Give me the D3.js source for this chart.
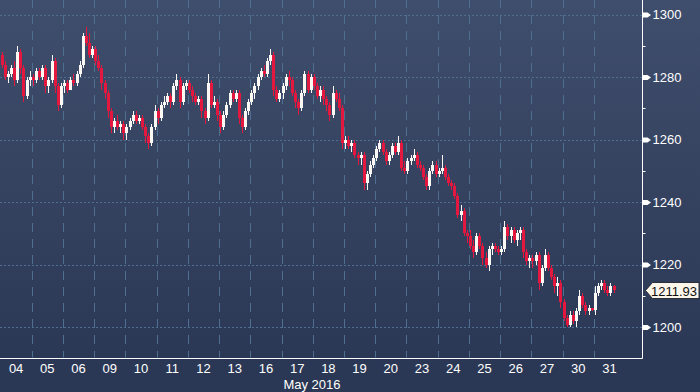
<!DOCTYPE html>
<html>
<head>
<meta charset="utf-8">
<script src="https://cdn.jsdelivr.net/npm/d3@7"></script>
<style>
  html, body { margin: 0; padding: 0; background: #2c3956; }
  svg { display: block; font-family: "Liberation Sans", Arial, sans-serif; }
</style>
</head>
<body>
<svg id="chart" width="700" height="392"></svg>
<script>
const days = ['04', '05', '06', '09', '10', '11', '12', '13', '16', '17',
  '18', '19', '20', '23', '24', '25', '26', '27', '30', '31'];
const monthLabel = 'May 2016';
const yTicks = [1200, 1220, 1240, 1260, 1280, 1300];
const lastPrice = 1211.93;

// [open, high, low, close] bars, one list per trading day
const bars = [
  [[1287,1288,1283,1284],[1284,1285,1279,1280],[1280,1282,1278,1281],[1281,1284,1280,1283],[1283,1285,1277,1279],
   [1279,1290,1278,1288],[1288,1289,1281,1283],[1283,1284,1272,1274],[1274,1280,1273,1279],[1279,1282,1277,1280]],
  [[1280,1281,1277,1279],[1279,1283,1278,1282],[1282,1283,1279,1280],[1280,1284,1279,1283],[1283,1284,1275,1277],
   [1277,1280,1275,1279],[1279,1287,1278,1285],[1285,1286,1275,1277],[1277,1278,1269,1271],[1271,1278,1270,1277]],
  [[1277,1279,1275,1278],[1278,1279,1275,1276],[1276,1280,1276,1279],[1279,1281,1277,1278],[1278,1282,1277,1281],
   [1281,1285,1280,1284],[1284,1294,1283,1293],[1293,1296,1290,1291],[1291,1294,1286,1287],[1287,1290,1286,1289]],
  [[1289,1290,1284,1285],[1285,1287,1282,1283],[1283,1284,1276,1278],[1278,1279,1273,1275],[1275,1276,1267,1269],
   [1269,1270,1262,1264],[1264,1267,1262,1266],[1266,1268,1263,1264],[1264,1266,1262,1265],[1265,1266,1260,1262]],
  [[1262,1265,1260,1264],[1264,1267,1263,1266],[1266,1269,1265,1268],[1268,1269,1265,1266],[1266,1268,1265,1267],
   [1267,1268,1263,1264],[1264,1265,1259,1261],[1261,1262,1257,1259],[1259,1265,1258,1264],[1264,1271,1263,1269]],
  [[1269,1270,1265,1267],[1267,1272,1266,1271],[1271,1274,1270,1272],[1272,1275,1271,1274],[1274,1275,1270,1272],
   [1272,1278,1271,1277],[1277,1281,1276,1279],[1279,1280,1270,1272],[1272,1278,1271,1277],[1277,1279,1276,1278]],
  [[1278,1279,1275,1276],[1276,1277,1272,1274],[1274,1275,1271,1272],[1272,1274,1271,1273],[1273,1274,1267,1269],
   [1269,1270,1265,1267],[1267,1281,1266,1278],[1278,1279,1270,1271],[1271,1274,1270,1272],[1272,1273,1266,1268]],
  [[1268,1269,1262,1264],[1264,1269,1263,1268],[1268,1272,1267,1271],[1271,1276,1270,1275],[1275,1276,1272,1273],
   [1273,1276,1272,1275],[1275,1276,1265,1267],[1267,1268,1262,1264],[1264,1270,1263,1269],[1269,1273,1268,1272]],
  [[1272,1276,1271,1275],[1275,1278,1273,1277],[1277,1281,1276,1280],[1280,1283,1279,1282],[1282,1284,1280,1281],
   [1281,1286,1280,1285],[1285,1289,1284,1287],[1287,1288,1274,1276],[1276,1277,1272,1273],[1273,1276,1272,1275]],
  [[1275,1278,1273,1277],[1277,1281,1276,1280],[1280,1282,1277,1279],[1279,1280,1274,1275],[1275,1276,1270,1272],
   [1272,1273,1268,1270],[1270,1276,1269,1275],[1275,1282,1274,1281],[1281,1282,1275,1276],[1276,1281,1275,1280]],
  [[1280,1281,1276,1277],[1277,1278,1273,1274],[1274,1277,1272,1276],[1276,1277,1271,1273],[1273,1274,1269,1271],
   [1271,1272,1266,1268],[1268,1277,1267,1275],[1275,1276,1272,1273],[1273,1275,1269,1270],[1270,1271,1257,1259]],
  [[1259,1261,1257,1260],[1260,1261,1257,1258],[1258,1260,1256,1259],[1259,1260,1254,1255],[1255,1256,1252,1254],
   [1254,1256,1252,1255],[1255,1256,1244,1246],[1246,1250,1244,1249],[1249,1253,1248,1252],[1252,1255,1251,1254]],
  [[1254,1258,1253,1257],[1257,1260,1256,1259],[1259,1260,1255,1256],[1256,1257,1252,1253],[1253,1256,1252,1255],
   [1255,1259,1254,1258],[1258,1259,1255,1256],[1256,1261,1255,1259],[1259,1260,1250,1251],[1251,1253,1249,1250]],
  [[1250,1254,1249,1253],[1253,1255,1252,1254],[1254,1257,1253,1255],[1255,1256,1251,1252],[1252,1253,1250,1251],
   [1251,1252,1247,1248],[1248,1249,1244,1245],[1245,1251,1244,1250],[1250,1253,1249,1252],[1252,1253,1248,1249]],
  [[1249,1251,1248,1250],[1250,1255,1249,1251],[1251,1252,1247,1248],[1248,1249,1245,1246],[1246,1247,1244,1245],
   [1245,1246,1241,1242],[1242,1243,1235,1236],[1236,1239,1234,1237],[1237,1238,1229,1230],[1230,1231,1227,1229]],
  [[1229,1231,1225,1226],[1226,1228,1222,1224],[1224,1230,1223,1229],[1229,1230,1225,1226],[1226,1227,1220,1222],
   [1222,1224,1219,1220],[1220,1226,1218,1225],[1225,1227,1223,1226],[1226,1227,1224,1225],[1225,1226,1223,1224]],
  [[1224,1226,1223,1225],[1225,1234,1224,1232],[1232,1233,1228,1229],[1229,1232,1227,1231],[1231,1232,1227,1228],
   [1228,1231,1226,1230],[1230,1232,1228,1231],[1231,1232,1222,1224],[1224,1225,1220,1221],[1221,1223,1219,1222]],
  [[1222,1223,1219,1221],[1221,1224,1220,1223],[1223,1224,1212,1214],[1214,1220,1213,1219],[1219,1225,1218,1223],
   [1223,1224,1218,1219],[1219,1220,1215,1216],[1216,1217,1211,1213],[1213,1216,1210,1214],[1214,1215,1206,1208]],
  [[1208,1209,1202,1203],[1203,1204,1200,1200.5],[1200.5,1205,1200,1204],[1204,1205,1201,1202],[1202,1206,1200,1205],
   [1205,1212,1204,1210],[1210,1211,1206,1207],[1207,1208,1204,1205],[1205,1207,1204,1206],[1206,1206,1205,1205.5]],
  [[1205.5,1213,1204,1211],[1211,1214,1210,1213],[1213,1215,1212,1214],[1214,1215,1211,1212],[1212,1213,1210,1211],
   [1211,1214,1210,1213],[1213,1213.5,1211,1211.93]]
];

const barsPerDay = 10;
const upColor = '#fcf8f3';
const downColor = '#e4173f';
const gridColor = '#4f6f90';

const width = 700;
const height = 392;
const plotRight = 642.5;
const plotBottom = 358.5;

const svg = d3.select('#chart');

const defs = svg.append('defs');
const grad = defs.append('linearGradient')
  .attr('id', 'bg')
  .attr('x1', 0).attr('y1', 0).attr('x2', 0).attr('y2', 1);
grad.append('stop').attr('offset', '0%').attr('stop-color', '#3f4e6c');
grad.append('stop').attr('offset', '92%').attr('stop-color', '#2b3855');
grad.append('stop').attr('offset', '100%').attr('stop-color', '#2b3855');

svg.append('rect')
  .attr('width', width)
  .attr('height', height)
  .attr('fill', 'url(#bg)');

const x = d3.scaleBand()
  .domain(days)
  .range([0.5, 625])
  .padding(0);

const y = d3.scaleLinear()
  .domain([1200, 1300])
  .range([327, 14.5]);

// grid
const grid = svg.append('g');
grid.selectAll('line.h')
  .data(yTicks)
  .enter()
  .append('line')
  .attr('x1', 0)
  .attr('x2', plotRight)
  .attr('y1', d => Math.round(y(d)) + 0.5)
  .attr('y2', d => Math.round(y(d)) + 0.5)
  .attr('stroke', gridColor)
  .attr('stroke-dasharray', '2,2');

grid.selectAll('line.v')
  .data(days.slice(1))
  .enter()
  .append('line')
  .attr('x1', d => Math.round(x(d)) + 0.5)
  .attr('x2', d => Math.round(x(d)) + 0.5)
  .attr('y1', -1)
  .attr('y2', plotBottom - 1)
  .attr('stroke', gridColor)
  .attr('stroke-dasharray', '9,7');

// candles
const flat = [];
bars.forEach((dayBars, i) => {
  dayBars.forEach((b, j) => {
    flat.push({
      day: days[i],
      j,
      o: b[0], h: b[1], l: b[2], c: b[3]
    });
  });
});

const cx = d => x(d.day) + (d.j + 0.5) * x.bandwidth() / barsPerDay;
const left = d => Math.round(cx(d) - 1.5);
const col = d => (d.c >= d.o ? upColor : downColor);

const candles = svg.append('g').attr('shape-rendering', 'crispEdges');

candles.selectAll('line.wick')
  .data(flat)
  .enter()
  .append('line')
  .attr('x1', d => left(d) + 1.5)
  .attr('x2', d => left(d) + 1.5)
  .attr('y1', d => y(d.h))
  .attr('y2', d => y(d.l))
  .attr('stroke', col);

candles.selectAll('rect.body')
  .data(flat)
  .enter()
  .append('rect')
  .attr('x', d => left(d))
  .attr('width', 3)
  .attr('y', d => y(Math.max(d.o, d.c)))
  .attr('height', d => Math.max(1, Math.abs(y(d.o) - y(d.c))))
  .attr('fill', col);

// axes lines
svg.append('line')
  .attr('x1', plotRight).attr('x2', plotRight)
  .attr('y1', 0).attr('y2', plotBottom)
  .attr('stroke', '#ffffff');
svg.append('line')
  .attr('x1', 0).attr('x2', plotRight)
  .attr('y1', plotBottom).attr('y2', plotBottom)
  .attr('stroke', '#ffffff');

// right axis
const yAxis = svg.append('g')
  .attr('transform', `translate(${plotRight},0)`)
  .call(d3.axisRight(y).tickValues(yTicks).tickSize(0).tickPadding(10).tickFormat(d3.format('d')));
yAxis.select('.domain').remove();
yAxis.selectAll('text')
  .attr('fill', '#ffffff')
  .style('font-size', '13px')
  .attr('x', 10);

yAxis.selectAll('.tick')
  .append('path')
  .attr('d', 'M0,-2.5 L5,-2.5 L8.5,0 L5,2.5 L0,2.5 Z')
  .attr('fill', '#ffffff');

svg.append('g')
  .selectAll('line')
  .data(y.ticks(10).filter(t => !yTicks.includes(t)))
  .enter()
  .append('line')
  .attr('x1', plotRight)
  .attr('x2', plotRight + 3)
  .attr('y1', d => Math.round(y(d)) + 0.5)
  .attr('y2', d => Math.round(y(d)) + 0.5)
  .attr('stroke', '#ffffff');

// bottom axis
const xAxis = svg.append('g')
  .attr('transform', `translate(0,${plotBottom})`)
  .call(d3.axisBottom(x).tickSize(0).tickPadding(5));
xAxis.select('.domain').remove();
xAxis.selectAll('text')
  .attr('fill', '#ffffff')
  .style('font-size', '13px');

svg.append('text')
  .attr('x', 312)
  .attr('y', 388.5)
  .attr('text-anchor', 'middle')
  .attr('fill', '#ffffff')
  .style('font-size', '13px')
  .text(monthLabel);

// last price tag
const ly = Math.round(y(lastPrice));
svg.append('path')
  .attr('d', `M${plotRight + 3},${ly + 0.5} L${plotRight + 10},${ly - 7.5} L699,${ly - 7.5} L699,${ly + 8.5} L${plotRight + 10},${ly + 8.5} Z`)
  .attr('fill', '#fbf5ea')
  .attr('stroke', '#2a2f3a')
  .attr('stroke-width', 1);
svg.append('text')
  .attr('x', 697)
  .attr('y', ly + 1)
  .attr('dy', '0.35em')
  .attr('text-anchor', 'end')
  .attr('fill', '#111111')
  .style('font-size', '13px')
  .text(d3.format('.2f')(lastPrice));
</script>
</body>
</html>
